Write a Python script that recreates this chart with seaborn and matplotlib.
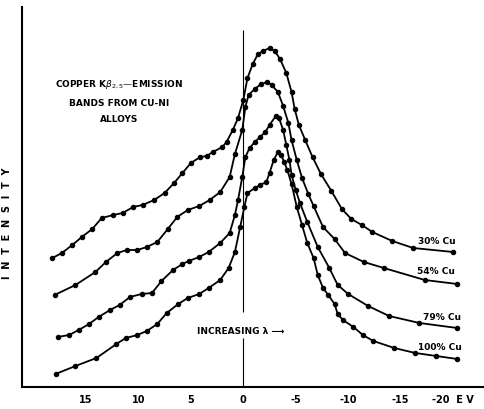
import matplotlib
matplotlib.use("Agg")
import matplotlib.pyplot as plt
import seaborn as sns
import pandas as pd

# === Values (energy in eV, intensity in arbitrary units) ===
ev_30 = [18.2, 17.3, 16.3, 15.4, 14.4, 13.5, 12.4, 11.5, 10.5, 9.6, 8.5, 7.5, 6.6, 5.8, 5.0,
         4.1, 3.5, 2.9, 2.0, 1.6, 1.0, 0.5, 0.0, -0.4, -0.9, -1.4, -1.9, -2.5, -3.0, -3.5,
         -4.1, -4.6, -4.9, -5.3, -5.9, -6.6, -7.4, -8.4, -9.4, -10.3, -11.3, -12.3, -14.2,
         -16.2, -20.0]
int_30 = [129, 134, 142, 150, 158, 169, 172, 174, 180, 182, 187, 194, 204, 214, 224,
          230, 231, 235, 240, 245, 257, 269, 287, 309, 323, 333, 336, 339, 336, 328,
          314, 295, 278, 262, 247, 230, 213, 196, 178, 168, 162, 155, 146, 139, 135]

ev_54 = [18.0, 16.0, 14.1, 13.1, 12.0, 11.1, 10.1, 9.2, 8.2, 7.2, 6.3, 5.3, 4.2, 3.2, 2.2,
         1.3, 0.8, 0.1, -0.2, -0.5, -1.1, -1.7, -2.3, -2.7, -3.3, -3.8, -4.3, -4.6, -5.1,
         -5.6, -6.2, -6.7, -7.6, -8.7, -9.7, -11.5, -13.4, -17.3, -20.4]
int_54 = [92, 102, 115, 125, 134, 137, 137, 140, 145, 158, 170, 177, 181, 187, 195,
          210, 233, 257, 280, 292, 298, 303, 305, 302, 295, 281, 264, 247, 227,
          209, 193, 181, 160, 148, 134, 125, 119, 107, 103]

ev_79 = [17.7, 16.6, 15.7, 14.7, 13.8, 12.7, 11.8, 10.8, 9.7, 8.7, 7.8, 6.7, 5.8, 5.2, 4.2,
         3.3, 2.2, 1.3, 0.8, 0.5, 0.1, -0.2, -0.6, -1.1, -1.6, -2.1, -2.5, -3.1, -3.4, -3.8,
         -4.1, -4.4, -4.6, -5.0, -5.4, -6.1, -7.1, -8.2, -9.0, -10.0, -11.9, -13.9, -16.8,
         -20.4]
int_79 = [50, 52, 57, 63, 70, 77, 82, 90, 93, 94, 106, 117, 123, 126, 130,
          135, 144, 154, 172, 187, 210, 230, 239, 245, 250, 255, 262, 271, 269, 257,
          242, 227, 212, 197, 184, 165, 140, 119, 102, 93, 81, 71, 64, 59]

ev_100 = [17.9, 16.0, 14.0, 12.1, 11.2, 10.1, 9.2, 8.2, 7.3, 6.2, 5.3, 4.2, 3.3, 2.2, 1.4,
          0.8, 0.3, -0.1, -0.4, -1.1, -1.6, -2.2, -2.5, -2.9, -3.3, -3.6, -3.9, -4.2, -4.6,
          -5.1, -5.6, -6.1, -6.7, -7.1, -7.6, -8.1, -8.7, -9.0, -9.5, -10.5, -11.4, -12.4,
          -14.4, -16.4, -18.4, -20.4]
int_100 = [13, 21, 29, 43, 49, 52, 56, 63, 74, 83, 89, 93, 99, 107, 119,
           135, 160, 180, 194, 199, 202, 205, 214, 227, 235, 232, 225, 217, 203,
           180, 162, 144, 129, 112, 99, 92, 83, 73, 67, 60, 52, 46, 39,
           34, 31, 28]

curve_labels = ["30% Cu", "54% Cu", "79% Cu", "100% Cu"]
label_pos = [(-20.2, 145), (-20.2, 115), (-20.8, 70), (-20.8, 40)]

tick_vals = [15, 10, 5, 0, -5, -10, -15, -20]
tick_text = ["15", "10", "5", "0", "-5", "-10", "-15", "-20  E V"]

# === Build long table ===
frames = []
for lab, ev, inten in zip(curve_labels, [ev_30, ev_54, ev_79, ev_100],
                          [int_30, int_54, int_79, int_100]):
    frames.append(pd.DataFrame({"ev": ev, "intensity": inten, "alloy": lab}))
df = pd.concat(frames, ignore_index=True)

sns.set_style("white")
plt.rcParams["font.family"] = ["DejaVu Sans"]
plt.rcParams["text.color"] = "black"
plt.rcParams["axes.labelcolor"] = "black"
plt.rcParams["xtick.color"] = "black"

fig = plt.figure(figsize=(4.84, 4.09), dpi=100)
ax = fig.add_axes([22 / 484, 22 / 409, 462 / 484, 380 / 409])

for lab in curve_labels:
    sub = df[df["alloy"] == lab]
    sns.lineplot(data=sub, x="ev", y="intensity", ax=ax, color="black", lw=1.3,
                 marker="o", markersize=3.2, markeredgecolor="black", sort=False)

for lab, (x, y) in zip(curve_labels, label_pos):
    ax.text(x, y, lab, ha="right", va="center", fontsize=6.5, fontweight="bold")

# zero line, broken around the arrow caption
ax.vlines(0, 75, 357, color="black", lw=0.8)
ax.vlines(0, 0, 49, color="black", lw=0.8)
ax.text(4.4, 56, "INCREASING λ ⟶", ha="left", va="center", fontsize=6.5, fontweight="bold")

# title block
ax.text(11.85, 302, r"COPPER K$\beta_{2,5}$—EMISSION", ha="center", va="center",
        fontsize=6.5, fontweight="bold")
ax.text(11.85, 284, "BANDS FROM CU-NI", ha="center", va="center", fontsize=6.5, fontweight="bold")
ax.text(11.85, 267, "ALLOYS", ha="center", va="center", fontsize=6.5, fontweight="bold")

ax.set_xlim(21.1, -22.95)
ax.set_ylim(0, 380)
ax.set_xticks(tick_vals)
ax.set_xticklabels(tick_text, fontsize=7, fontweight="bold")
ax.set_yticks([])
ax.tick_params(axis="x", direction="inout", length=4, width=1, pad=4)
ax.set_xlabel("")
ax.set_ylabel("I  N  T  E  N  S  I  T  Y", fontsize=7, fontweight="bold")
ax.yaxis.set_label_coords(-0.022, 0.43)
for s in ["top", "right"]:
    ax.spines[s].set_visible(False)
for s in ["left", "bottom"]:
    ax.spines[s].set_linewidth(1.5)
    ax.spines[s].set_color("black")
if ax.get_legend() is not None:
    ax.get_legend().remove()

fig.savefig("out.png", dpi=100)
